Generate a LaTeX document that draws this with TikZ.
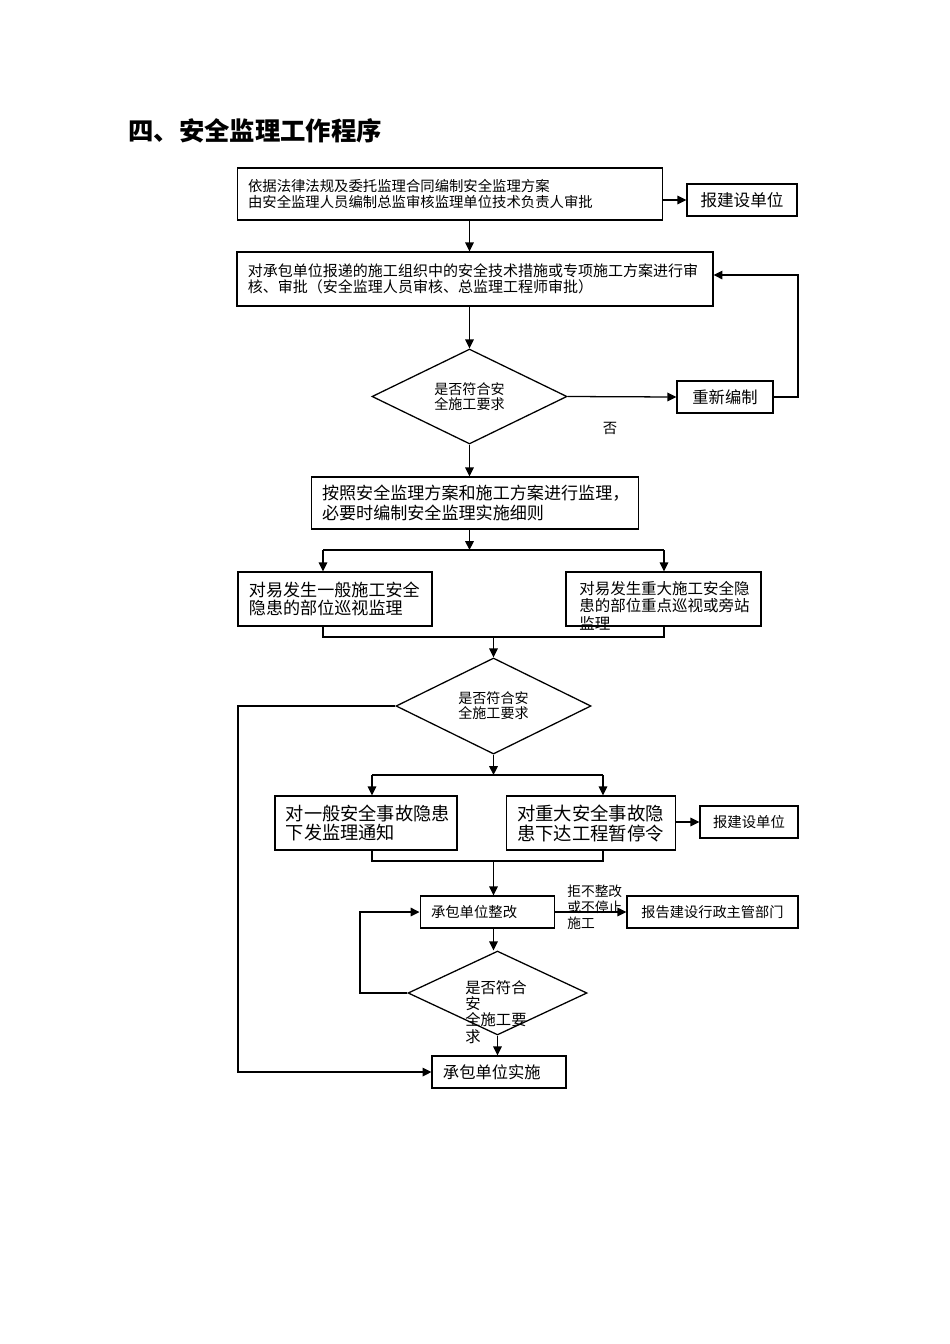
\documentclass[tikz,border=0pt]{standalone}
\usepackage{fontspec}
\setmainfont{Noto Sans CJK SC}
\usetikzlibrary{arrows.meta,shapes.geometric,positioning}

\begin{document}
\begin{tikzpicture}[
  x=0.6266pt, y=-0.6266pt,
  >={Triangle[length=5.6pt,width=5.4pt]},
  box/.style  = {rectangle, draw, line width=0.8pt, inner xsep=6.8pt,
                 inner ysep=0pt, align=left},
  tag/.style  = {rectangle, draw, line width=0.8pt, inner sep=0pt,
                 minimum height=20pt, align=center},
  chk/.style  = {diamond, draw, line width=0.8pt, inner sep=0pt,
                 aspect=2, align=center},
  arr/.style  = {->, line width=0.8pt},
  wire/.style = {line width=0.8pt},
  lbl/.style  = {inner sep=0pt, align=left}
]
\useasboundingbox (0,0) rectangle (950,1344);

%%% ---- TITLE ----
\node[anchor=west, inner sep=0pt,
      font=\bfseries\fontsize{15.9pt}{18pt}\selectfont] (title) at (128,131)
      {四、安全监理工作程序};

%%% ---- PLAN AND REVIEW ----
\node[box, text width=253.1pt, minimum height=32.6pt,
      font=\fontsize{9pt}{9.8pt}\selectfont] (plan) at (450,194)
      {依据法律法规及委托监理合同编制安全监理方案\\由安全监理人员编制总监审核监理单位技术负责人审批};
\node[tag, minimum width=68.9pt, font=\fontsize{10.4pt}{12pt}\selectfont]
      (report1) at (742,200) {报建设单位};
\node[box, text width=284.5pt, minimum height=33.8pt,
      font=\fontsize{9.4pt}{9.8pt}\selectfont] (review) at (475,279)
      {对承包单位报递的施工组织中的安全技术措施或专项施工方案进行审\\核、审批（安全监理人员审核、总监理工程师审批）};
\node[chk, minimum width=122.2pt, minimum height=59.5pt,
      font=\fontsize{8.8pt}{9.6pt}\selectfont] (ok1) at (469.5,396.5)
      {是否符合安\\全施工要求};
\node[tag, minimum width=60.2pt, font=\fontsize{10.2pt}{12pt}\selectfont]
      (redo) at (725,397) {重新编制};
\node[lbl, font=\fontsize{9pt}{10pt}\selectfont] (no1) at (610,428) {否};

\draw[arr] (plan.east |- report1) -- (report1.west);
\draw[arr] (plan.south -| ok1) -- (review.north -| ok1);
\draw[arr] (review.south -| ok1) -- (ok1.north);
\draw[arr] (ok1.east) -- (redo.west);
\coordinate (loop1) at (798,275);
\draw[arr] (redo.east) -| (loop1) -- (loop1 -| review.east);

%%% ---- SUPERVISION ----
\node[box, text width=191.7pt, minimum height=32.6pt,
      font=\fontsize{10.7pt}{12.5pt}\selectfont] (exec) at (475,503)
      {按照安全监理方案和施工方案进行监理，\\必要时编制安全监理实施细则};
\node[box, text width=107.8pt, minimum height=33.8pt,
      font=\fontsize{10.7pt}{11.5pt}\selectfont] (patrol) at (335,599)
      {对易发生一般施工安全\\隐患的部位巡视监理};
\node[box, minimum width=122.2pt, minimum height=33.8pt] (keypt) at (663.5,599) {};
\node[lbl, anchor=west, font=\fontsize{9.7pt}{11pt}\selectfont]
      (keypttxt) at (579,605.5)
      {对易发生重大施工安全隐\\患的部位重点巡视或旁站\\监理};

\coordinate (s1l) at (323,550);  \coordinate (s1r) at (664,550);
\coordinate (m1l) at (323,637);  \coordinate (m1r) at (664,637);
\draw[arr] (ok1.south) -- (exec.north -| ok1);
\draw[arr] (exec.south -| ok1) -- (ok1 |- s1l);
\draw[wire] (s1l) -- (s1r);
\draw[arr] (s1l) -- (s1l |- patrol.north);
\draw[arr] (s1r) -- (s1r |- keypt.north);
\draw[wire] (s1l |- patrol.south) -- (m1l) -- (m1r) -- (s1r |- keypt.south);

%%% ---- CHECK ON SITE ----
\node[chk, minimum width=122.2pt, minimum height=60.2pt,
      font=\fontsize{8.8pt}{9.4pt}\selectfont] (ok2) at (493.5,706)
      {是否符合安\\全施工要求};
\node[box, text width=100.3pt, minimum height=33.8pt,
      font=\fontsize{11.4pt}{12.5pt}\selectfont] (notice) at (366,823)
      {对一般安全事故隐患\\下发监理通知};
\node[box, text width=92.7pt, minimum height=33.8pt,
      font=\fontsize{11.5pt}{12.5pt}\selectfont] (stop) at (591,823)
      {对重大安全事故隐\\患下达工程暂停令};
\node[tag, minimum width=61.4pt, font=\fontsize{9pt}{10pt}\selectfont]
      (report2) at (749,822) {报建设单位};

\coordinate (s2l) at (372,775);  \coordinate (s2r) at (603,775);
\coordinate (m2l) at (372,861);  \coordinate (m2r) at (603,861);
\draw[arr] (ok2 |- m1l) -- (ok2.north);
\draw[arr] (ok2.south) -- (ok2 |- s2l);
\draw[wire] (s2l) -- (s2r);
\draw[arr] (s2l) -- (s2l |- notice.north);
\draw[arr] (s2r) -- (s2r |- stop.north);
\draw[arr] (stop.east |- report2) -- (report2.west);
\draw[wire] (s2l |- notice.south) -- (m2l) -- (m2r) -- (s2r |- stop.south);

%%% ---- RECTIFY ----
\node[box, text width=70.8pt, minimum height=20pt,
      font=\fontsize{9pt}{10pt}\selectfont] (rectify) at (487.5,912) {承包单位整改};
\node[tag, minimum width=107.1pt, font=\fontsize{8.9pt}{10pt}\selectfont]
      (report3) at (712.5,912) {报告建设行政主管部门};
\node[lbl, anchor=west, font=\fontsize{8.6pt}{10pt}\selectfont]
      (refuse) at (567,907) {拒不整改\\或不停止\\施工};
\node[chk, minimum width=112.2pt, minimum height=52.6pt] (ok3) at (497.5,993) {};
\node[lbl, anchor=west, font=\fontsize{9.6pt}{10.1pt}\selectfont]
      (ok3txt) at (465,1012) {是否符合\\安\\全施工要\\求};
\node[box, text width=70.2pt, minimum height=20pt,
      font=\fontsize{10.2pt}{12pt}\selectfont] (build) at (499,1072) {承包单位实施};

\coordinate (loop2) at (238,1072);
\coordinate (loop3) at (360,912);
\draw[arr] (m2l -| ok2) -- (ok2 |- rectify.north);
\draw[arr] (rectify.east) -- (report3.west);
\draw[arr] (rectify.south -| ok2) -- (ok2 |- ok3.north);
\draw[arr] (ok3.west) -| (loop3) -- (rectify.west);
\draw[arr] (ok3.south) -- (ok3.south |- build.north);
\draw[arr] (ok2.west) -| (loop2) -- (build.west);
\end{tikzpicture}
\end{document}
